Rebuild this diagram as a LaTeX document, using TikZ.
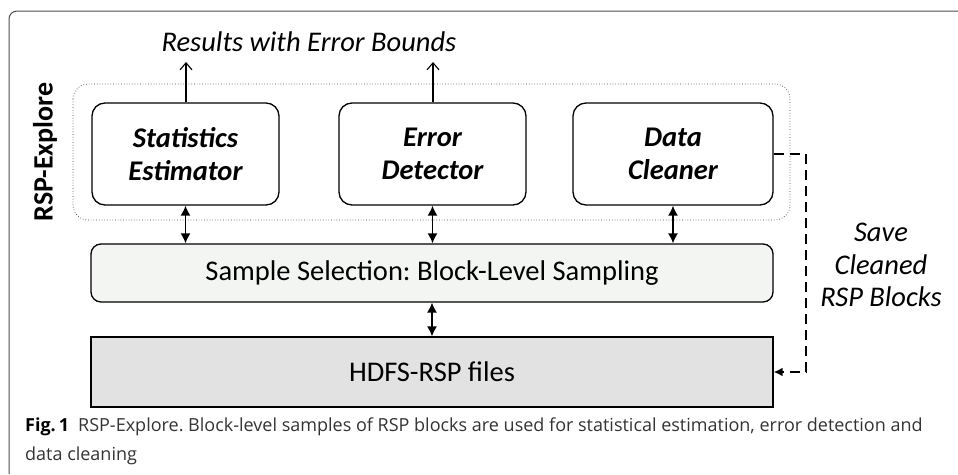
\documentclass[tikz,border=0pt]{standalone}
\usepackage{fontspec}
\setmainfont{Carlito}
\newfontfamily\capfont{Open Sans}
\usetikzlibrary{arrows.meta,positioning}
\definecolor{sampfill}{HTML}{F3F5F3}
\definecolor{hdfsfill}{HTML}{E2E2E2}
\tikzset{
  unitbox/.style={draw, line width=1.3pt, rounded corners=13pt, minimum height=102pt, align=center,
    font=\fontsize{28.5}{33}\selectfont\bfseries\itshape},
  layerbox/.style={draw, line width=1.3pt, minimum width=682pt, font=\fontsize{28.5}{33}\selectfont},
  dblarrow/.style={line width=1.4pt, {Latex[length=10pt,width=10pt]}-{Latex[length=10pt,width=10pt]}},
  outarrow/.style={line width=1.1pt, -{Straight Barb[length=7pt,width=12pt]}},
  savepath/.style={line width=2.2pt, dash pattern=on 10pt off 6pt, -{Latex[length=9pt,width=9pt]}}
}
\begin{document}
\frenchspacing
\begin{tikzpicture}[x=1pt,y=-1pt]
  \useasboundingbox (0,0) rectangle (958,474);
  % outer frame
  \draw[black!70, line width=1pt, rounded corners=8pt] (9,474) -- (9,11) -- (958,11);

  % RSP-Explore container
  \draw[black!75, line width=0.7pt, dotted, rounded corners=15pt] (73,84) rectangle (790,220);
  \node[rotate=90, font=\fontsize{28}{33}\selectfont\bfseries] (explore) at (45,152) {RSP-Explore};

  % units
  \node[unitbox, minimum width=187pt] (stat) at (185.5,154) {Statistics\\Estimator};
  \node[unitbox, minimum width=187pt] (detect) at (432.5,154) {Error\\Detector};
  \node[unitbox, minimum width=200pt] (clean) at (673,154) {Data\\Cleaner};

  % layers
  \node[layerbox, fill=sampfill, rounded corners=10pt, minimum height=58pt] (sample) at (432,273) {Sample Selection: Block-Level Sampling};
  \node[layerbox, fill=hdfsfill, minimum height=70pt] (hdfs) at (432,372) {HDFS-RSP files};

  % results
  \node[font=\fontsize{28.5}{33}\selectfont\itshape] (results) at (309,42) {Results with Error Bounds};
  \coordinate (statout) at (186,62);
  \coordinate (detectout) at (433,62);
  \draw[outarrow] (stat.north -| statout) -- (statout);
  \draw[outarrow] (detect.north -| detectout) -- (detectout);

  % links to sampling
  \draw[dblarrow] (stat.south) -- (stat.south |- sample.north);
  \draw[dblarrow] (detect.south) -- (detect.south |- sample.north);
  \draw[dblarrow] (clean.south) -- (clean.south |- sample.north);
  \draw[dblarrow] (sample.south) -- (hdfs.north);

  % save path
  \draw[savepath] (clean.east) -- ++(32,0) |- (hdfs.east);
  \node[align=center, font=\fontsize{28.5}{32.5}\selectfont\itshape] (save) at (881,265) {Save\\Cleaned\\RSP Blocks};

  % caption
  \node[anchor=north west, align=left, inner sep=0pt, font=\capfont\fontsize{18}{29}\selectfont] (caption) at (25,418)
    {\textbf{Fig.\,1}\enspace\textcolor{black!80}{RSP-Explore. Block-level samples of RSP blocks are used for statistical estimation, error detection and}\\
     \textcolor{black!80}{data cleaning}};
\end{tikzpicture}
\end{document}
